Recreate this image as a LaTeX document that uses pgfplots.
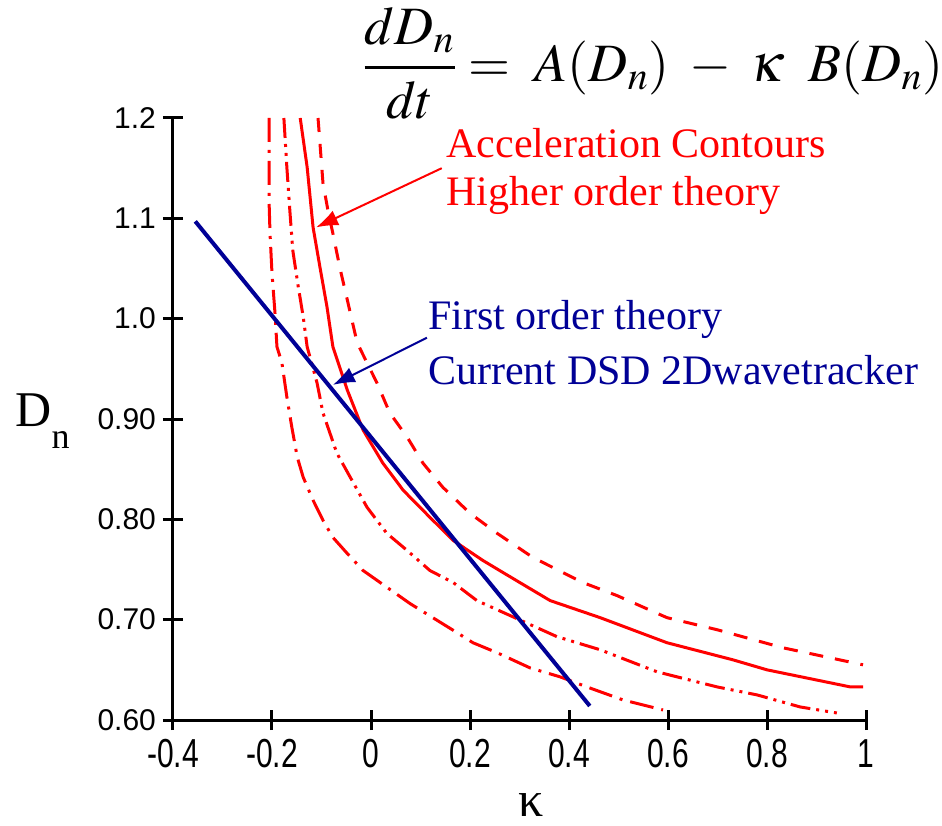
\documentclass[border=0pt]{standalone}
\usepackage{mathptmx}
\usepackage{fontspec}
\setmainfont{Liberation Serif}
\newfontfamily\arial{Liberation Sans}
\usepackage{pgfplots}
\pgfplotsset{compat=1.18}
\usetikzlibrary{arrows.meta}
\definecolor{cred}{RGB}{255,0,0}
\definecolor{cblue}{RGB}{0,0,150}
\begin{document}
\begin{tikzpicture}
\useasboundingbox (-86.5pt,-52.5pt) rectangle (384.5pt,360pt);
\begin{axis}[
scale only axis, width=346.5pt, height=301pt,
xmin=-0.4, xmax=1, ymin=0.6, ymax=1.2,
axis lines=left, axis line style={-, line width=1.5pt},
tick align=center, major tick length=10pt,
tick style={line width=1.5pt, black},
xtick={-0.4,-0.2,0,0.2,0.4,0.6,0.8,1},
xticklabels={-0.4,-0.2,0,0.2,0.4,0.6,0.8,1},
ytick={0.6,0.7,0.8,0.9,1.0,1.1,1.2},
yticklabels={0.60,0.70,0.80,0.90,1.0,1.1,1.2},
ticklabel style={font=\arial\fontsize{15}{15}\selectfont},
xticklabel style={yscale=1.35},
clip=false,
]
% solid
\addplot[cred, line width=1.5pt] coordinates {
(-0.143,1.2) (-0.129,1.151) (-0.117,1.091) (-0.103,1.051) (-0.089,1.012)
(-0.077,0.972) (-0.048,0.929) (-0.016,0.889) (0.024,0.856) (0.065,0.829)
(0.119,0.802) (0.166,0.779) (0.226,0.759) (0.287,0.741) (0.362,0.719)
(0.463,0.702) (0.598,0.677) (0.731,0.660) (0.800,0.650) (0.968,0.633) (0.994,0.633)};
% dashed
\addplot[cred, line width=1.5pt, dash pattern=on 7pt off 6pt] coordinates {
(-0.107,1.2) (-0.097,1.135) (-0.087,1.108) (-0.077,1.085) (-0.063,1.051)
(-0.048,1.019) (-0.028,0.976) (0.012,0.936) (0.038,0.906) (0.073,0.882)
(0.105,0.856) (0.145,0.832) (0.200,0.806) (0.255,0.786) (0.327,0.762)
(0.428,0.737) (0.497,0.724) (0.598,0.702) (0.699,0.690) (0.832,0.672) (0.994,0.655)};
% dash dot dot
\addplot[cred, line width=1.5pt, dash pattern=on 10pt off 3pt on 1.5pt off 3pt on 1.5pt off 3pt] coordinates {
(-0.176,1.2) (-0.170,1.151) (-0.164,1.108) (-0.158,1.068) (-0.147,1.032)
(-0.137,1.002) (-0.129,0.972) (-0.109,0.936) (-0.097,0.906) (-0.069,0.866)
(-0.042,0.842) (-0.008,0.812) (0.032,0.786) (0.073,0.769) (0.119,0.749)
(0.166,0.737) (0.214,0.719) (0.295,0.701) (0.376,0.683) (0.463,0.670)
(0.578,0.648) (0.699,0.633) (0.780,0.625) (0.867,0.613) (0.941,0.607)};
% dash dot
\addplot[cred, line width=1.5pt, dash pattern=on 12pt off 4pt on 1.5pt off 4pt] coordinates {
(-0.206,1.2) (-0.206,1.118) (-0.204,1.085) (-0.200,1.045) (-0.194,1.006)
(-0.190,0.972) (-0.180,0.956) (-0.170,0.922) (-0.160,0.892) (-0.149,0.862)
(-0.137,0.842) (-0.117,0.819) (-0.097,0.799) (-0.077,0.782) (-0.048,0.766)
(-0.016,0.749) (0.079,0.716) (0.174,0.687) (0.206,0.677) (0.255,0.667)
(0.321,0.652) (0.382,0.643) (0.436,0.633) (0.509,0.620) (0.590,0.610)};
% first order theory
\addplot[cblue, line width=2pt] coordinates {(-0.355,1.097) (0.442,0.614)};

\draw[cred, line width=1pt, -{Latex[length=11pt,width=8pt]}] (axis cs:0.143,1.150) -- (axis cs:-0.111,1.091);
\draw[cblue, line width=1pt, -{Latex[length=11pt,width=8pt]}] (axis cs:0.113,0.981) -- (axis cs:-0.077,0.934);

\node[cred, anchor=west, font=\fontsize{21}{21}\selectfont, inner sep=0pt] at (axis cs:0.152,1.175) {Acceleration Contours};
\node[cred, anchor=west, font=\fontsize{21}{21}\selectfont, inner sep=0pt] at (axis cs:0.152,1.123) {Higher order theory};
\node[cblue, anchor=west, font=\fontsize{21}{21}\selectfont, inner sep=0pt] at (axis cs:0.115,0.999) {First order theory};
\node[cblue, anchor=west, font=\fontsize{21}{21}\selectfont, inner sep=0pt] at (axis cs:0.115,0.949) {Current DSD 2Dwavetracker};
\end{axis}
\node[font=\fontsize{27}{32}\selectfont, inner sep=0pt] at (240pt,328.5pt) {$\displaystyle\frac{dD_n}{dt} = \;A(D_n)\;-\;\kappa\;\;B(D_n)$};
\node[font=\fontsize{25}{25}\selectfont, anchor=base west, inner sep=0pt] at (-79pt,146.5pt) {D\raisebox{-11pt}{\fontsize{18}{18}\selectfont n}};
\node[font=\fontsize{25}{25}\selectfont, inner sep=0pt] at (179pt,-42.5pt) {κ};
\end{tikzpicture}
\end{document}
